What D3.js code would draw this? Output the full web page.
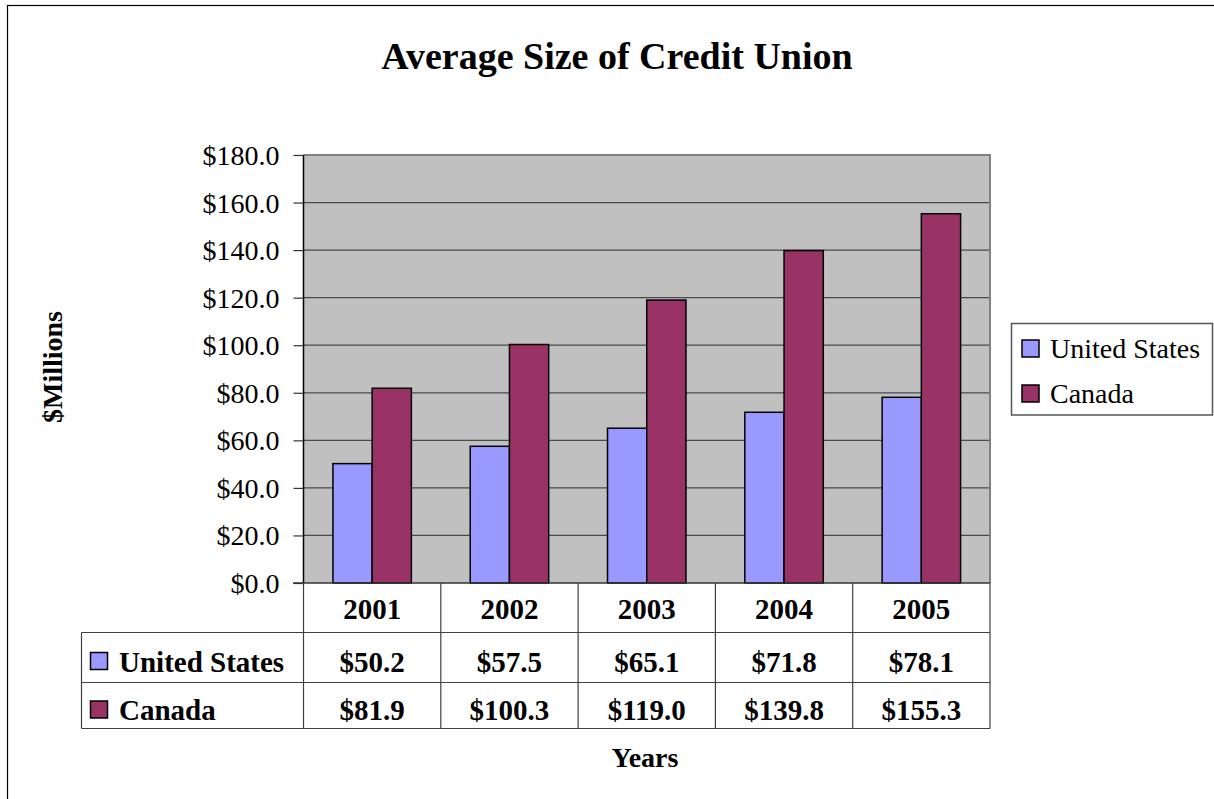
<!DOCTYPE html>
<html>
<head>
<meta charset="utf-8">
<script src="https://cdn.jsdelivr.net/npm/d3@7"></script>
<style>
  html, body { margin: 0; padding: 0; background: #fff; }
  svg { display: block; font-family: "Liberation Serif", "Times New Roman", serif; }
</style>
</head>
<body>
<svg id="chart" width="1214" height="799"></svg>
<script>
// Average credit union size, $ millions
const years = ["2001", "2002", "2003", "2004", "2005"];
const seriesNames = ["United States", "Canada"];
const usValues = [50.2, 57.5, 65.1, 71.8, 78.1];
const canadaValues = [81.9, 100.3, 119.0, 139.8, 155.3];
const yTicks = [0, 20, 40, 60, 80, 100, 120, 140, 160, 180];

const colors = { "United States": "#9999FF", "Canada": "#993366" };
const seriesValues = { "United States": usValues, "Canada": canadaValues };

const svg = d3.select("#chart");
const fmt = v => "$" + d3.format(".1f")(v);

// Outer chart frame (runs past the page edge on the right and bottom)
svg.append("rect")
  .attr("x", 7.5).attr("y", 5.5).attr("width", 1400).attr("height", 1000)
  .attr("fill", "#fff").attr("stroke", "#000").attr("stroke-width", 1.2);

const plot = { left: 303.5, right: 990, top: 155, bottom: 583 };

const x = d3.scaleBand().domain(years).range([plot.left, plot.right]);
// gap of 1.5 bar widths between groups
const barW = x.bandwidth() / 3.5;
const xs = d3.scaleBand().domain(seriesNames)
  .range([barW * 0.75, barW * 2.75]);
const y = d3.scaleLinear().domain([0, 180]).range([plot.bottom, plot.top]);

// Plot background
svg.append("rect")
  .attr("x", plot.left).attr("y", plot.top)
  .attr("width", plot.right - plot.left).attr("height", plot.bottom - plot.top)
  .attr("fill", "#C0C0C0");

// Gridlines
svg.append("g")
  .selectAll("line").data(yTicks.filter(t => t > 0)).join("line")
  .attr("x1", plot.left).attr("x2", plot.right)
  .attr("y1", d => y(d)).attr("y2", d => y(d))
  .attr("stroke", "#4a4a4a").attr("stroke-width", 1.2);

// Plot border (top/right)
svg.append("path")
  .attr("d", `M${plot.left},${plot.top}H${plot.right}V${plot.bottom}`)
  .attr("fill", "none").attr("stroke", "#808080").attr("stroke-width", 2);

// Bars
const groups = svg.append("g").selectAll("g").data(years).join("g")
  .attr("transform", d => `translate(${x(d)},0)`);
groups.selectAll("rect")
  .data((d, i) => seriesNames.map(s => ({ s, v: seriesValues[s][i] })))
  .join("rect")
  .attr("x", d => xs(d.s)).attr("width", xs.bandwidth())
  .attr("y", d => y(d.v)).attr("height", d => y(0) - y(d.v))
  .attr("fill", d => colors[d.s])
  .attr("stroke", "#000").attr("stroke-width", 1.5);

// Y axis
const yAxis = d3.axisLeft(y).tickValues(yTicks).tickSize(10).tickPadding(14)
  .tickFormat(fmt);
const yG = svg.append("g").attr("transform", `translate(${plot.left},0)`).call(yAxis);
yG.select(".domain").attr("stroke", "#000").attr("stroke-width", 1.5)
  .attr("d", `M0,${plot.top}V${plot.bottom}`);
yG.selectAll(".tick line").attr("stroke", "#333").attr("stroke-width", 1.2);
yG.selectAll(".tick text")
  .attr("font-family", "Liberation Serif, Times New Roman, serif")
  .attr("font-size", 28).attr("fill", "#000").attr("dy", "0.34em");

// Data table under the plot
const table = svg.append("g");
const rowTop = plot.bottom, row1 = 632.5, row2 = 682.5, rowBottom = 728.5;
const keyLeft = 81.5;
const lineColor = "#404040";

// horizontal rules
table.append("line").attr("x1", 293).attr("x2", plot.right)
  .attr("y1", rowTop).attr("y2", rowTop).attr("stroke", "#333").attr("stroke-width", 1.5);
[row1, row2, rowBottom].forEach(yy => {
  table.append("line").attr("x1", keyLeft).attr("x2", plot.right)
    .attr("y1", yy).attr("y2", yy).attr("stroke", lineColor).attr("stroke-width", 1.2);
});
// vertical rules
table.append("line").attr("x1", keyLeft).attr("x2", keyLeft)
  .attr("y1", row1).attr("y2", rowBottom).attr("stroke", lineColor).attr("stroke-width", 1.2);
years.forEach(yr => {
  table.append("line").attr("x1", x(yr)).attr("x2", x(yr))
    .attr("y1", rowTop).attr("y2", rowBottom).attr("stroke", lineColor).attr("stroke-width", 1.2);
});
table.append("line").attr("x1", plot.right).attr("x2", plot.right)
  .attr("y1", rowTop).attr("y2", rowBottom).attr("stroke", lineColor).attr("stroke-width", 1.2);

// year header
table.selectAll("text.year").data(years).join("text")
  .attr("class", "year")
  .attr("x", d => x(d) + x.bandwidth() / 2).attr("y", 619)
  .attr("text-anchor", "middle").attr("font-weight", "bold").attr("font-size", 29)
  .text(d => d);

// series rows
const rowBase = { "United States": 671.5, "Canada": 720 };
seriesNames.forEach(s => {
  const base = rowBase[s];
  table.append("rect")
    .attr("x", 90.5).attr("y", base - 19).attr("width", 17).attr("height", 17)
    .attr("fill", colors[s]).attr("stroke", "#000").attr("stroke-width", 1.5);
  table.append("text")
    .attr("x", 119).attr("y", base)
    .attr("font-weight", "bold").attr("font-size", 29)
    .text(s);
  table.selectAll(null).data(seriesValues[s]).join("text")
    .attr("x", (d, i) => x(years[i]) + x.bandwidth() / 2).attr("y", base)
    .attr("text-anchor", "middle").attr("font-weight", "bold").attr("font-size", 29)
    .text(d => fmt(d));
});

// Title
svg.append("text")
  .attr("x", 617).attr("y", 69)
  .attr("text-anchor", "middle").attr("font-weight", "bold").attr("font-size", 38)
  .text("Average Size of Credit Union");

// Axis titles
svg.append("text")
  .attr("transform", "translate(62,367) rotate(-90)")
  .attr("text-anchor", "middle").attr("font-weight", "bold").attr("font-size", 28)
  .text("$Millions");
svg.append("text")
  .attr("x", 645).attr("y", 767)
  .attr("text-anchor", "middle").attr("font-weight", "bold").attr("font-size", 28)
  .text("Years");

// Legend
const legend = svg.append("g");
legend.append("rect")
  .attr("x", 1011.5).attr("y", 323.5).attr("width", 201).attr("height", 91.5)
  .attr("fill", "#fff").attr("stroke", "#555").attr("stroke-width", 1.5);
const legendBase = { "United States": 358, "Canada": 403 };
seriesNames.forEach(s => {
  legend.append("rect")
    .attr("x", 1022).attr("y", legendBase[s] - 18).attr("width", 17).attr("height", 17)
    .attr("fill", colors[s]).attr("stroke", "#000").attr("stroke-width", 1.5);
  legend.append("text")
    .attr("x", 1050).attr("y", legendBase[s])
    .attr("font-size", 28)
    .text(s);
});
</script>
</body>
</html>
